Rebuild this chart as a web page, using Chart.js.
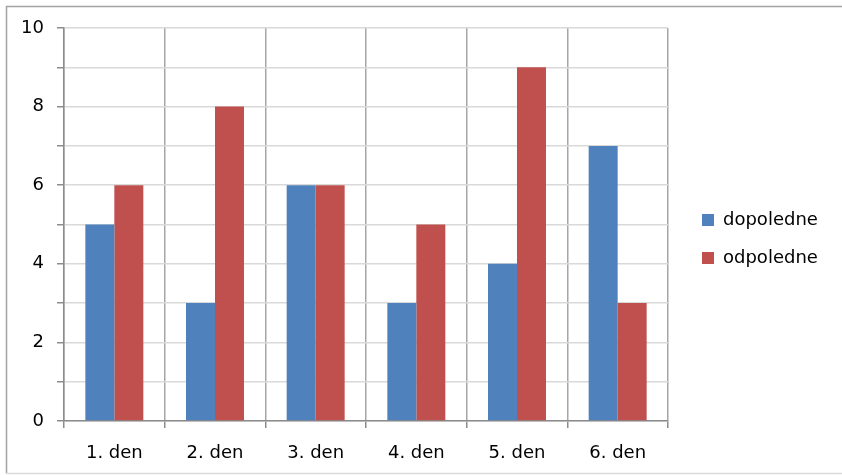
<!DOCTYPE html>
<html>
<head>
<meta charset="utf-8">
<script src="https://cdn.jsdelivr.net/npm/chart.js@4/dist/chart.umd.min.js"></script>
<style>
  html, body { margin: 0; padding: 0; background: #fff; overflow: hidden; }
  #wrap { width: 842px; height: 475px; }
</style>
</head>
<body>
<div id="wrap"><canvas id="c" width="842" height="475"></canvas></div>
<script>
// Days and the two measured series
const categories = ['1. den', '2. den', '3. den', '4. den', '5. den', '6. den'];
const dopoledne = [5, 3, 6, 3, 4, 7];
const odpoledne = [6, 8, 6, 5, 9, 3];
const seriesNames = ['dopoledne', 'odpoledne'];
const seriesColors = ['#4F81BD', '#C0504D'];
const yMin = 0, yMax = 10, yStep = 1;

const FONT = '"DejaVu Sans", Verdana, sans-serif';

// white background and frame around the whole chart
const framePlugin = {
  id: 'frame',
  beforeDraw(chart) {
    const ctx = chart.ctx;
    ctx.save();
    ctx.fillStyle = '#fff';
    ctx.fillRect(0, 0, chart.width, chart.height);
    ctx.lineWidth = 1.5;
    ctx.strokeStyle = '#a3a3a3';
    ctx.beginPath();
    ctx.moveTo(6.5, chart.height - 1.5);
    ctx.lineTo(6.5, 6.5);
    ctx.lineTo(chart.width, 6.5);
    ctx.stroke();
    ctx.strokeStyle = '#d9d9d9';
    ctx.beginPath();
    ctx.moveTo(6, chart.height - 1.5);
    ctx.lineTo(chart.width, chart.height - 1.5);
    ctx.stroke();
    ctx.restore();
  }
};

// legend at the right, square swatch followed by the series name
const sideLegend = {
  id: 'sideLegend',
  afterDraw(chart) {
    const ctx = chart.ctx;
    const x0 = 702, y0 = 220, gap = 38, box = 12;
    ctx.save();
    ctx.font = '18px ' + FONT;
    ctx.textBaseline = 'middle';
    ctx.textAlign = 'left';
    chart.data.datasets.forEach((ds, i) => {
      const y = y0 + i * gap;
      ctx.fillStyle = ds.backgroundColor;
      ctx.fillRect(x0, y - box / 2, box, box);
      ctx.fillStyle = '#000';
      ctx.fillText(ds.label, x0 + box + 9, y);
    });
    ctx.restore();
  }
};

new Chart(document.getElementById('c'), {
  type: 'bar',
  data: {
    labels: categories,
    datasets: [
      { label: seriesNames[0], data: dopoledne, backgroundColor: seriesColors[0] },
      { label: seriesNames[1], data: odpoledne, backgroundColor: seriesColors[1] }
    ]
  },
  options: {
    responsive: false,
    animation: false,
    devicePixelRatio: 1,
    layout: { padding: { left: 21, top: 28, right: 174, bottom: 0 } },
    datasets: { bar: { categoryPercentage: 0.576, barPercentage: 1.0 } },
    plugins: {
      legend: { display: false },
      tooltip: { enabled: false }
    },
    scales: {
      x: {
        offset: true,
        grid: { offset: true, color: '#a6a6a6', tickColor: '#8c8c8c', tickLength: 7, lineWidth: 1.5 },
        border: { color: '#8c8c8c', width: 1.5 },
        ticks: { color: '#000', font: { family: FONT, size: 18 }, padding: 15, maxRotation: 0 },
        afterFit(scale) { scale.height = 54; }
      },
      y: {
        min: yMin, max: yMax,
        grid: { color: '#d9d9d9', tickColor: '#8c8c8c', tickLength: 7, lineWidth: 1.5 },
        border: { color: '#8c8c8c', width: 1.5 },
        ticks: {
          stepSize: yStep,
          color: '#000',
          font: { family: FONT, size: 18 },
          padding: 13,
          callback: (v) => (v % 2 === 0 ? String(v) : '')
        },
        afterFit(scale) { scale.width = 43; }
      }
    }
  },
  plugins: [framePlugin, sideLegend]
});
</script>
</body>
</html>
